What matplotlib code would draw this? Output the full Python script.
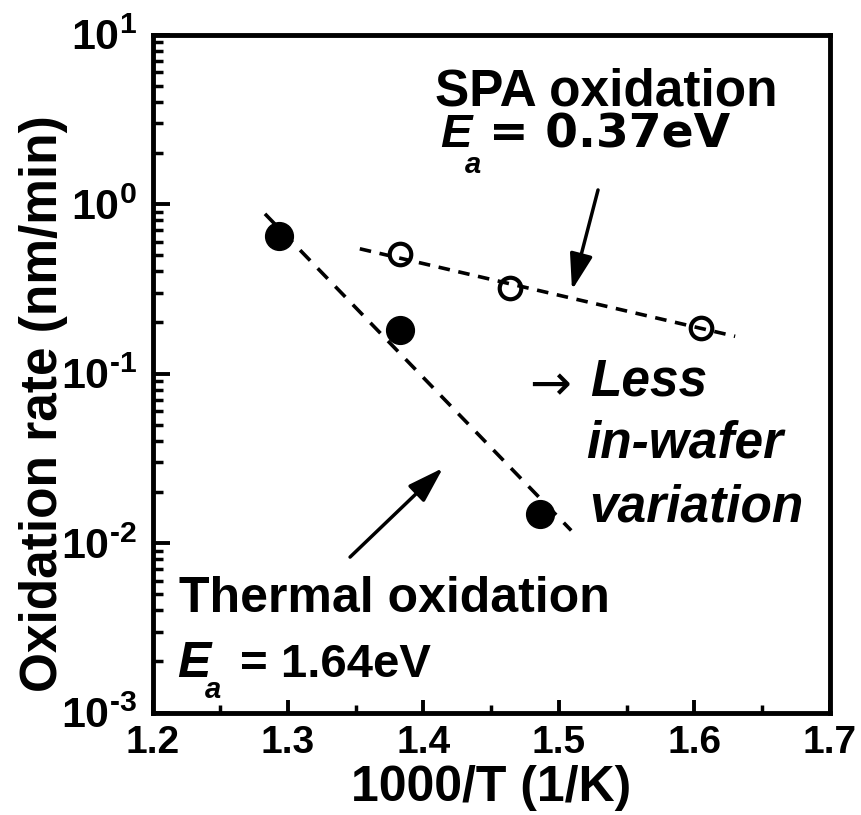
import numpy as np
import matplotlib
matplotlib.use("Agg")
import matplotlib.pyplot as plt
from matplotlib.ticker import (MultipleLocator, LogLocator, NullFormatter,
                               FixedLocator, FixedFormatter)

# Oxidation rates (nm/min) versus 1000/T (1/K)
thermal_x = [1.293, 1.383, 1.486]
thermal_rate = [0.647, 0.181, 0.0148]
spa_x = [1.383, 1.464, 1.605]
spa_rate = [0.507, 0.318, 0.185]

# Activation energies (eV) and the 1000/T span covered by each Arrhenius fit
thermal_ea = 1.64
spa_ea = 0.37
thermal_fit_span = [1.283, 1.509]
spa_fit_span = [1.353, 1.630]

xtick_values = [1.2, 1.3, 1.4, 1.5, 1.6, 1.7]
xtick_labels = ["1.2", "1.3", "1.4", "1.5", "1.6", "1.7"]
ytick_exponents = [-3, -2, -1, 0, 1]

K_B = 8.617e-5  # Boltzmann constant, eV/K


def arrhenius_fit(x, rate, ea, span):
    """Line of fixed slope Ea through the data (least squares in log10)."""
    slope = ea / (K_B * 1000.0 * np.log(10.0))  # decades per unit of 1000/T
    intercept = np.mean(np.log10(rate) + slope * np.asarray(x))
    xs = np.asarray(span, dtype=float)
    return xs, 10.0 ** (intercept - slope * xs)


def power_label(e):
    exp = str(e).replace('-', '\u2010')
    return rf'$10^{{{exp}}}$'


plt.rcParams['font.family'] = ['Liberation Sans', 'DejaVu Sans']
plt.rcParams['font.weight'] = 'bold'
plt.rcParams['mathtext.fontset'] = 'custom'
plt.rcParams['mathtext.rm'] = 'Liberation Sans:bold'
plt.rcParams['mathtext.it'] = 'Liberation Sans:bold:italic'
plt.rcParams['mathtext.bf'] = 'Liberation Sans:bold'
plt.rcParams['mathtext.default'] = 'rm'

W, H = 862, 815
fig = plt.figure(figsize=(W / 100, H / 100), dpi=100)
L, R, T, B = 152.5, 830.0, 34.5, 712.5
ax = fig.add_axes([L / W, 1 - B / H, (R - L) / W, (B - T) / H])

# Arrhenius fit lines
tx, ty = arrhenius_fit(thermal_x, thermal_rate, thermal_ea, thermal_fit_span)
sx, sy = arrhenius_fit(spa_x, spa_rate, spa_ea, spa_fit_span)
ax.plot(tx, ty, color='k', lw=2.6, ls=(0, (4, 3)), zorder=2)
ax.plot(sx, sy, color='k', lw=2.6, ls=(0, (3.2, 2.4)), zorder=2)

# Data points
ax.plot(thermal_x, thermal_rate, 'o', ms=20, mfc='k', mec='k', zorder=3)
ax.plot(spa_x, spa_rate, 'o', ms=15.5, mfc='none', mec='k', mew=3.0, zorder=3)

ax.set_yscale('log')
ax.set_xlim(1.2, 1.7)
ax.set_ylim(1e-3, 1e1)

ax.xaxis.set_major_locator(FixedLocator(xtick_values))
ax.xaxis.set_major_formatter(FixedFormatter(xtick_labels))
ax.xaxis.set_minor_locator(MultipleLocator(0.05))
ax.yaxis.set_major_locator(FixedLocator([10.0 ** e for e in ytick_exponents]))
ax.yaxis.set_major_formatter(FixedFormatter([power_label(e) for e in ytick_exponents]))
ax.yaxis.set_minor_locator(LogLocator(base=10, subs=np.arange(2, 10)))
ax.yaxis.set_minor_formatter(NullFormatter())

ax.tick_params(which='both', direction='in', top=False, right=False, color='k')
ax.tick_params(axis='y', which='major', length=12, width=2.8, labelsize=31, pad=11)
ax.tick_params(axis='y', which='minor', length=7, width=2.5)
ax.tick_params(axis='x', which='major', length=9.5, width=2.8, labelsize=28, pad=9)
ax.tick_params(axis='x', which='minor', length=6, width=2.5)
for sp in ax.spines.values():
    sp.set_linewidth(3.5)

ax.set_xlabel('1000/T (1/K)', fontsize=36, fontweight='bold', labelpad=3)
ax.set_ylabel('Oxidation rate (nm/min)', fontsize=37, fontweight='bold')
ax.yaxis.set_label_coords(-0.125, 0.455)


def put(px, py, s, **kw):
    fig.text(px / W, 1 - py / H, s, ha='left', va='baseline', **kw)


# SPA annotation
put(435, 105, 'SPA oxidation', fontsize=37, fontweight='bold')
put(440, 147, 'E', fontsize=34, fontweight='bold', fontstyle='italic')
put(465, 173, 'a', fontsize=21, fontweight='bold', fontstyle='italic')
put(489, 148, '= 0.37eV', fontsize=34, fontweight='bold', family=['DejaVu Sans'])

# Thermal annotation
put(179, 612, 'Thermal oxidation', fontsize=36, fontweight='bold')
put(177, 677, 'E', fontsize=36, fontweight='bold', fontstyle='italic')
put(205, 698, 'a', fontsize=21, fontweight='bold', fontstyle='italic')
put(240, 677, '= 1.64eV', fontsize=34, fontweight='bold')

# Uniformity note
put(529, 400, '\u2192', fontsize=36, fontweight='normal', family=['DejaVu Sans'])
put(590, 395, 'Less', fontsize=37, fontweight='bold', fontstyle='italic')
put(586, 457, 'in-wafer', fontsize=37, fontweight='bold', fontstyle='italic')
put(589, 522, 'variation', fontsize=37, fontweight='bold', fontstyle='italic')

# Pointer arrows to the fit lines
arrow_style = dict(arrowstyle='-|>,head_length=1.1,head_width=0.35', lw=2.5,
                   color='k', shrinkA=0, shrinkB=0, mutation_scale=20)
ax.annotate('', xy=(1.5096, 0.311), xytext=(1.5288, 1.21), arrowprops=arrow_style)
ax.annotate('', xy=(1.4144, 0.0277), xytext=(1.3458, 0.00826), arrowprops=arrow_style)

fig.savefig('out.png', dpi=100)
